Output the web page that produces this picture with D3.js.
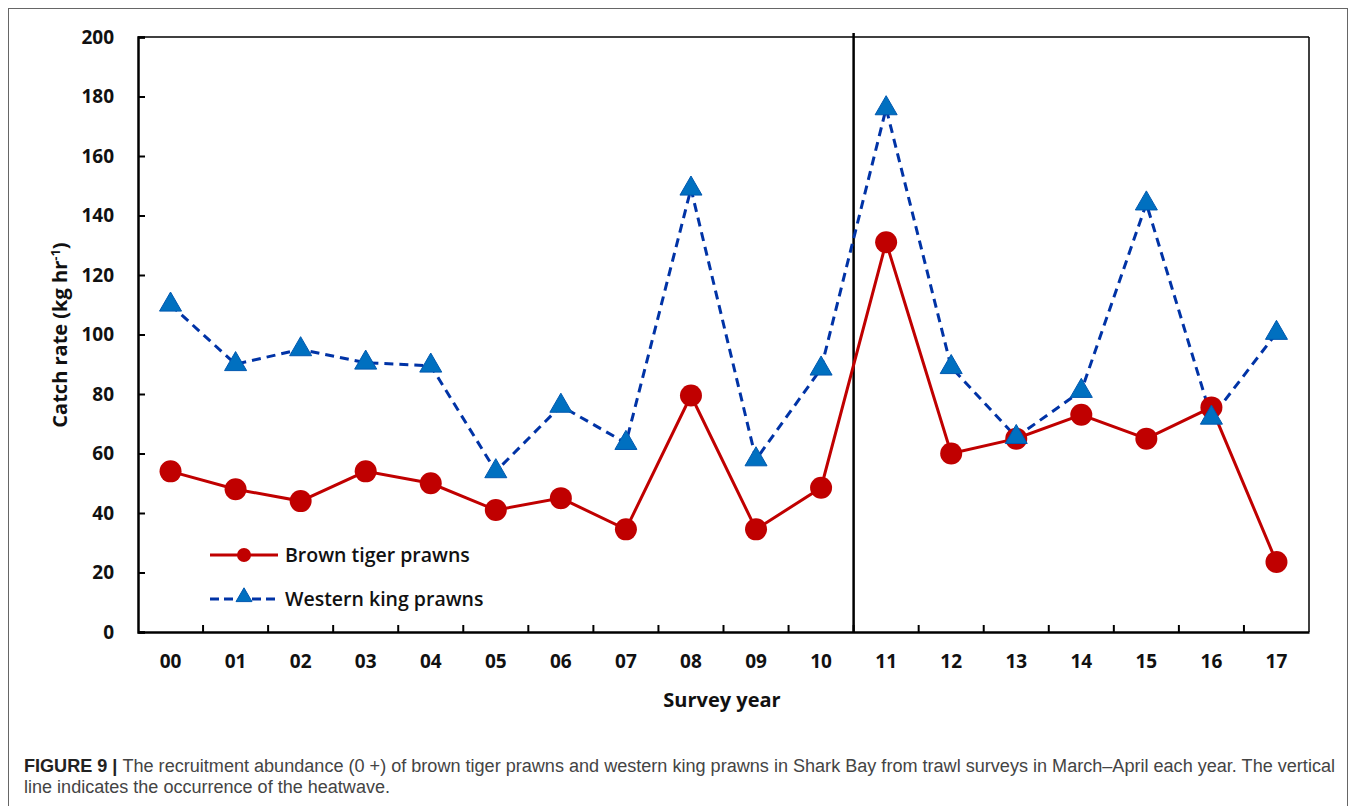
<!DOCTYPE html>
<html><head><meta charset="utf-8">
<script src="https://cdn.jsdelivr.net/npm/d3@7"></script>
<style>body{margin:0;background:#fff;} svg{display:block;}</style>
</head><body>
<svg id="c" width="1357" height="806"></svg>
<script>
const years = ["00","01","02","03","04","05","06","07","08","09","10","11","12","13","14","15","16","17"];
const brownTiger = [54,48,44,54,50,41,45,34.5,79.5,34.5,48.5,131,60,65,73,65,75.5,23.5];
const westernKing = [110,90,95,90.5,89.5,54,76,63.5,149,58,88.5,176,89,65.5,81,144,72,100.5];
const yTicks = [0,20,40,60,80,100,120,140,160,180,200];
const seriesNames = ["Brown tiger prawns","Western king prawns"];
const heatwaveAfter = "10";

const svg = d3.select("#c");
const W = 1357, H = 806;
const m = {l:138, r:1309, t:37, b:632};
const font = "'Open Sans', sans-serif";

// outer frame
svg.append("rect").attr("x",8.5).attr("y",8.5).attr("width",1339).attr("height",H+10)
  .attr("fill","none").attr("stroke","#666").attr("stroke-width",1);

const x = d3.scaleBand().domain(years).range([m.l, m.r]).padding(0);
const y = d3.scaleLinear().domain([0,200]).range([m.b, m.t]);
const cx = d => x(d) + x.bandwidth()/2;

// top and right frame
svg.append("line").attr("x1",m.l).attr("x2",m.r).attr("y1",m.t).attr("y2",m.t).attr("stroke","#000").attr("stroke-width",1.5);
svg.append("line").attr("x1",m.r).attr("x2",m.r).attr("y1",m.t).attr("y2",m.b).attr("stroke","#000").attr("stroke-width",1.5);

// y axis
const yAxis = svg.append("g").attr("transform",`translate(${m.l},0)`)
  .call(d3.axisRight(y).tickValues(yTicks).tickSize(7).tickFormat(d=>d));
yAxis.select(".domain").attr("stroke","#000").attr("stroke-width",2.5);
yAxis.selectAll(".tick line").attr("stroke","#000").attr("stroke-width",2);
yAxis.selectAll(".tick text").attr("x",-24).attr("text-anchor","end")
  .attr("font-family",font).attr("font-weight",700).attr("font-size",19).attr("fill","#111");

// x axis: ticks at band boundaries pointing inward
const xb = svg.append("g").attr("transform",`translate(0,${m.b})`)
  .call(d3.axisBottom(x).tickSize(0).tickPadding(23));
xb.select(".domain").attr("stroke","#000").attr("stroke-width",2.5);
xb.selectAll(".tick text").attr("font-family",font).attr("font-weight",700).attr("font-size",19).attr("fill","#111");
svg.append("g").selectAll("line").data(years.slice(1)).join("line")
  .attr("x1",d=>x(d)).attr("x2",d=>x(d)).attr("y1",m.b).attr("y2",m.b-7)
  .attr("stroke","#000").attr("stroke-width",2);

// heatwave line
const hx = x(heatwaveAfter) + x.bandwidth();
svg.append("line").attr("x1",hx).attr("x2",hx).attr("y1",m.t-4).attr("y2",m.b)
  .attr("stroke","#000").attr("stroke-width",2.5);

// axis titles
svg.append("text").attr("x",722).attr("y",707).attr("text-anchor","middle")
  .attr("font-family",font).attr("font-weight",700).attr("font-size",20).attr("fill","#111").text("Survey year");
const yt = svg.append("text").attr("transform","translate(67,335) rotate(-90)").attr("text-anchor","middle")
  .attr("font-family",font).attr("font-weight",700).attr("font-size",20).attr("fill","#111");
yt.append("tspan").text("Catch rate (kg hr");
yt.append("tspan").attr("dy",-7).attr("font-size",13).text("-1");
yt.append("tspan").attr("dy",7).text(")");

const red = "#C00000", blueLine = "#0033A6", blueFill = "#0070C0";
const line = d3.line().x((d,i)=>cx(years[i])).y(d=>y(d));

// western king
svg.append("path").datum(westernKing).attr("d",line).attr("fill","none")
  .attr("stroke",blueLine).attr("stroke-width",3).attr("stroke-dasharray","9,6");
// brown tiger
svg.append("path").datum(brownTiger).attr("d",line).attr("fill","none")
  .attr("stroke",red).attr("stroke-width",3);
svg.append("g").selectAll("circle").data(brownTiger).join("circle")
  .attr("cx",(d,i)=>cx(years[i])).attr("cy",d=>y(d)).attr("r",11).attr("fill",red);
const tri = d3.symbol().type(d3.symbolTriangle).size(210);
svg.append("g").selectAll("path").data(westernKing).join("path")
  .attr("d",tri).attr("transform",(d,i)=>`translate(${cx(years[i])},${y(d)})`)
  .attr("fill",blueFill).attr("stroke","#0058B0").attr("stroke-width",1);

// legend
const lg = svg.append("g");
lg.append("line").attr("x1",210).attr("x2",278).attr("y1",555).attr("y2",555).attr("stroke",red).attr("stroke-width",3);
lg.append("circle").attr("cx",244).attr("cy",555).attr("r",7).attr("fill",red);
lg.append("text").attr("x",285).attr("y",562).attr("font-family",font).attr("font-weight",600).attr("font-size",19.5).attr("fill","#111").text(seriesNames[0]);
lg.append("line").attr("x1",210).attr("x2",278).attr("y1",599).attr("y2",599).attr("stroke",blueLine).attr("stroke-width",3).attr("stroke-dasharray","9,5");
lg.append("path").attr("d",d3.symbol().type(d3.symbolTriangle).size(110)).attr("transform","translate(244,597)").attr("fill",blueFill).attr("stroke","#0058B0");
lg.append("text").attr("x",285).attr("y",606).attr("font-family",font).attr("font-weight",600).attr("font-size",19.5).attr("fill","#111").text(seriesNames[1]);

// caption
const capFont = "'Liberation Sans', Arial, sans-serif";
const c1 = svg.append("text").attr("x",24).attr("y",772).attr("font-family",capFont).attr("font-size",18).attr("fill","#444")
  .attr("textLength",1311).attr("lengthAdjust","spacingAndGlyphs");
c1.append("tspan").attr("font-weight",700).attr("fill","#222").text("FIGURE 9 | ");
c1.append("tspan").text("The recruitment abundance (0 +) of brown tiger prawns and western king prawns in Shark Bay from trawl surveys in March–April each year. The vertical");
svg.append("text").attr("x",24).attr("y",793).attr("font-family",capFont).attr("font-size",18).attr("fill","#444")
  .attr("textLength",366).attr("lengthAdjust","spacingAndGlyphs")
  .text("line indicates the occurrence of the heatwave.");
</script>
</body></html>
